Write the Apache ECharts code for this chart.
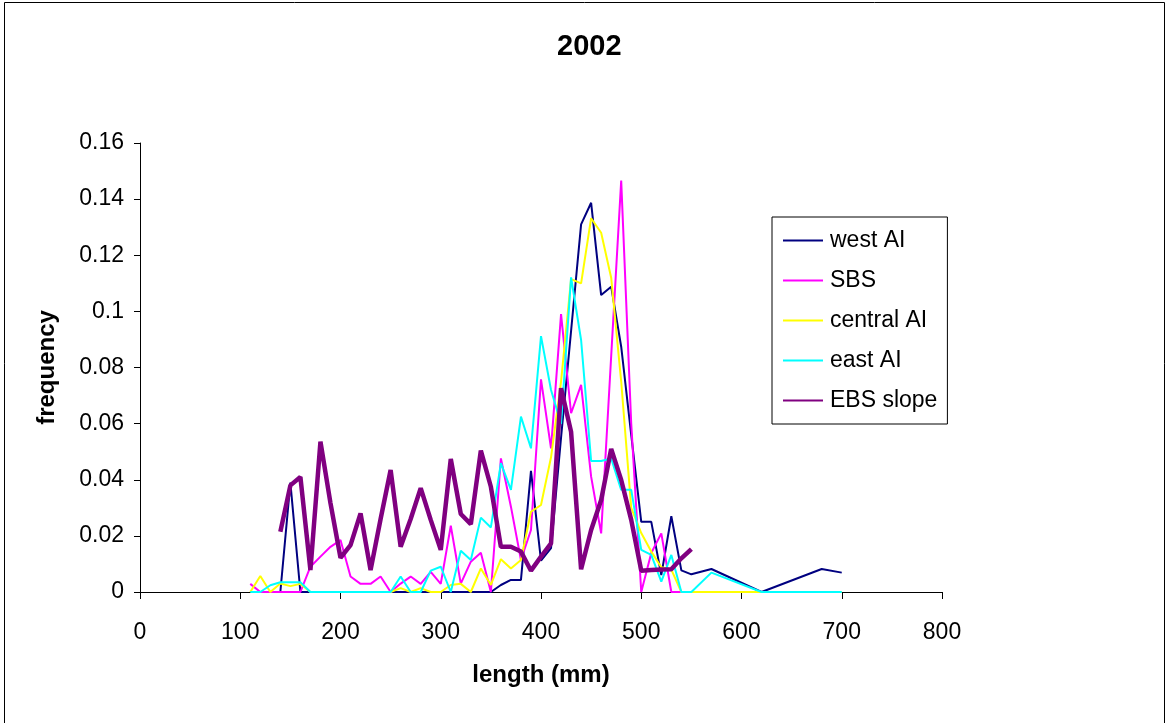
<!DOCTYPE html>
<html>
<head>
    <meta charset="utf-8">
    <title>2002</title>
    <script src="https://cdn.jsdelivr.net/npm/echarts@6/dist/echarts.min.js"></script>
    <style>
        html, body { margin: 0; padding: 0; background: #fff; }
        #chart { width: 1167px; height: 723px; }
    </style>
</head>
<body>
<div id="chart"></div>
<script>
    // length (mm), frequency pairs
    var westAI = [[140,0],[150,0.039],[160,0],[170,0],[200,0],[250,0],[300,0],[350,0],[360,0.0025],[370,0.0043],[380,0.0043],
        [390,0.0432],[400,0.0112],[410,0.0156],[420,0.055],[430,0.093],[440,0.131],[450,0.1387],[460,0.1058],[470,0.1088],
        [480,0.0874],[490,0.056],[500,0.025],[510,0.025],[520,0.006],[530,0.027],[540,0.0077],[550,0.0063],[570,0.0082],
        [620,0],[680,0.0082],[700,0.0069]];
    var sbs = [[110,0.0029],[120,0],[130,0],[140,0],[150,0],[160,0],[170,0.009],[180,0.0126],[190,0.0161],[200,0.0185],
        [210,0.0055],[220,0.0029],[230,0.0029],[240,0.0055],[250,0],[260,0.003],[270,0.0055],[280,0.0029],[290,0.0072],
        [300,0.0029],[310,0.0236],[320,0.003],[330,0.0108],[340,0.014],[350,0],[360,0.0476],[370,0.0304],[380,0.0114],
        [390,0.0221],[400,0.0758],[410,0.0512],[420,0.099],[430,0.0637],[440,0.0738],[450,0.0411],[460,0.0209],[470,0.084],
        [480,0.1466],[490,0.06],[500,0],[510,0.0139],[520,0.0209],[530,0],[540,0],[600,0],[700,0]];
    var centralAI = [[110,0],[120,0.0057],[130,0],[140,0.003],[150,0.0021],[160,0.0029],[170,0],[200,0],[250,0],[260,0.0014],
        [270,0],[280,0.0014],[290,0],[300,0],[310,0.0025],[320,0.0029],[330,0],[340,0.0084],[350,0.0025],[360,0.0117],
        [370,0.0084],[380,0.0114],[390,0.0286],[400,0.031],[410,0.048],[420,0.075],[430,0.1115],[440,0.110],[450,0.1332],
        [460,0.128],[470,0.112],[480,0.075],[490,0.03],[500,0.021],[510,0.0144],[520,0.0088],[530,0.008],[540,0],[600,0],[700,0]];
    var eastAI = [[110,0],[120,0],[130,0.0024],[140,0.0035],[150,0.0035],[160,0.0035],[170,0],[200,0],[250,0],[260,0.0055],
        [270,0],[280,0],[290,0.0076],[300,0.009],[310,0],[320,0.0147],[330,0.0114],[340,0.0265],[350,0.023],[360,0.0459],
        [370,0.0364],[380,0.0625],[390,0.0512],[400,0.0912],[410,0.072],[420,0.06],[430,0.1121],[440,0.0898],[450,0.0467],
        [460,0.0467],[470,0.0476],[480,0.0364],[490,0.0364],[500,0.015],[510,0.0132],[520,0.0037],[530,0.0132],[540,0],
        [550,0],[570,0.0069],[620,0],[700,0]];
    var ebsSlope = [[140,0.0215],[150,0.038],[160,0.041],[170,0.0078],[180,0.0536],[190,0.0317],[200,0.0122],[210,0.0167],
        [220,0.028],[230,0.0078],[240,0.026],[250,0.0435],[260,0.0161],[270,0.026],[280,0.037],[290,0.0257],[300,0.015],
        [310,0.0474],[320,0.0278],[330,0.0242],[340,0.0504],[350,0.0375],[360,0.0161],[370,0.0161],[380,0.0144],[390,0.0076],
        [400,0.0126],[410,0.0173],[420,0.0726],[430,0.0571],[440,0.0081],[450,0.0221],[460,0.0328],[470,0.051],[480,0.0399],
        [490,0.0257],[500,0.0076],[510,0.0078],[520,0.008],[530,0.0081],[540,0.012],[550,0.0153]];

    var seriesNames = ['west AI', 'SBS', 'central AI', 'east AI', 'EBS slope'];
    var seriesData = [westAI, sbs, centralAI, eastAI, ebsSlope];
    var seriesColors = ['#000080', '#ff00ff', '#ffff00', '#00ffff', '#800080'];
    var seriesWidths = [2, 2, 2, 2, 4.5];

    var font = "'Liberation Sans', Arial, sans-serif";

    var myChart = echarts.init(document.getElementById('chart'), null, { renderer: 'canvas' });

    var series = seriesNames.map(function (name, i) {
        return {
            name: name,
            type: 'line',
            data: seriesData[i],
            symbol: 'none',
            showSymbol: false,
            animation: false,
            color: seriesColors[i],
            lineStyle: { color: seriesColors[i], width: seriesWidths[i] }
        };
    });

    var option = {
        backgroundColor: '#fff',
        animation: false,
        title: {
            text: '2002',
            left: 552,
            top: 27,
            textStyle: { fontFamily: font, fontSize: 29, fontWeight: 'bold', color: '#000' }
        },
        legend: {
            orient: 'vertical',
            left: 772,
            top: 217,
            padding: [12, 10, 12, 10],
            itemWidth: 40,
            itemHeight: 14,
            itemGap: 17,
            borderColor: '#000',
            borderWidth: 1,
            itemStyle: { opacity: 0 },
            textStyle: { fontFamily: font, fontSize: 23, color: '#000', padding: [0, 0, 0, 2] },
            data: seriesNames
        },
        grid: { left: 140, right: 225, top: 143, bottom: 131, containLabel: false },
        xAxis: {
            type: 'value',
            min: 0,
            max: 800,
            interval: 100,
            name: 'length (mm)',
            nameLocation: 'middle',
            nameGap: 71,
            nameTextStyle: { fontFamily: font, fontSize: 24, fontWeight: 'bold', color: '#000' },
            axisLine: { show: true, onZero: false, lineStyle: { color: '#000', width: 1 } },
            axisTick: { show: true, inside: false, length: 7, lineStyle: { color: '#000' } },
            axisLabel: { fontFamily: font, fontSize: 23, color: '#000', margin: 29 },
            splitLine: { show: false }
        },
        yAxis: {
            type: 'value',
            min: 0,
            max: 0.16,
            interval: 0.02,
            name: 'frequency',
            nameLocation: 'middle',
            nameGap: 81,
            nameTextStyle: { fontFamily: font, fontSize: 24, fontWeight: 'bold', color: '#000' },
            axisLine: { show: true, lineStyle: { color: '#000', width: 1 } },
            axisTick: { show: true, inside: false, length: 6, lineStyle: { color: '#000' } },
            axisLabel: { fontFamily: font, fontSize: 23, color: '#000', margin: 16 },
            splitLine: { show: false }
        },
        graphic: [{
            type: 'rect',
            silent: true,
            shape: { x: 4.5, y: 2.5, width: 1160, height: 730 },
            style: { fill: 'none', stroke: '#000', lineWidth: 1 }
        }],
        series: series
    };
    myChart.setOption(option);
</script>
</body>
</html>
